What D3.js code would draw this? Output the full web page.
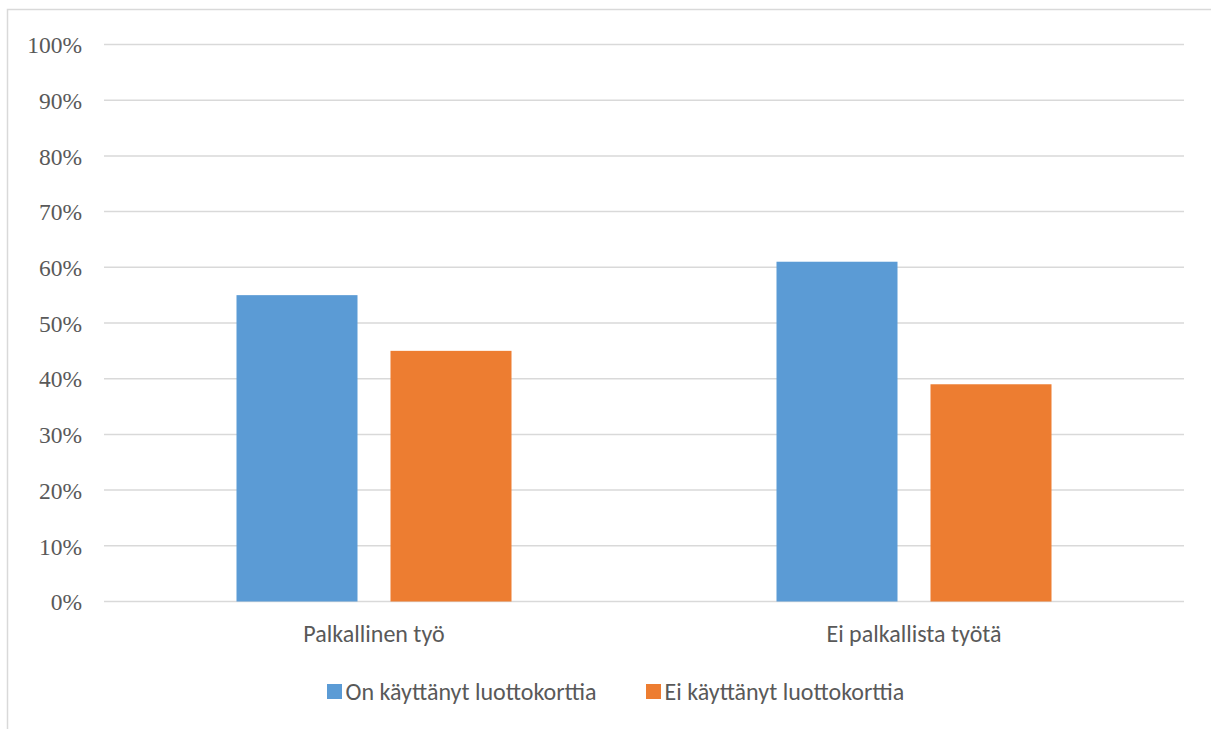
<!DOCTYPE html>
<html>
<head>
<meta charset="utf-8">
<script src="https://cdn.jsdelivr.net/npm/d3@7"></script>
<style>
  html, body { margin: 0; padding: 0; background: #fff; }
  svg { display: block; }
</style>
</head>
<body>
<svg id="chart" width="1211" height="729"></svg>
<script>
const categories = ["Palkallinen työ", "Ei palkallista työtä"];
const seriesNames = ["On käyttänyt luottokorttia", "Ei käyttänyt luottokorttia"];
const usedCard = [0.55, 0.61];
const notUsedCard = [0.45, 0.39];
const yTicks = [0, 0.1, 0.2, 0.3, 0.4, 0.5, 0.6, 0.7, 0.8, 0.9, 1.0];
const colors = ["#5B9BD5", "#ED7D31"];

const svg = d3.select("#chart");
const W = 1211, H = 729;
const sansFont = "Carlito, Calibri, 'Open Sans', 'Liberation Sans', sans-serif";

// chart area frame (only left and top edges fall inside the view)
svg.append("rect")
  .attr("x", 7.5).attr("y", 9.5)
  .attr("width", W + 10).attr("height", H + 10)
  .attr("fill", "#fff").attr("stroke", "#D9D9D9").attr("stroke-width", 1.5);

const plot = { left: 104, right: 1184, top: 44.5, bottom: 601.5 };

const x0 = d3.scaleBand().domain(categories).range([plot.left, plot.right]);
// each category holds two bars with a narrow gap, centred in the band
const groupWidth = 275;
const groupStart = (x0.bandwidth() - groupWidth) / 2;
const x1 = d3.scaleBand().domain(seriesNames)
  .range([groupStart, groupStart + groupWidth])
  .paddingInner(33 / 154).paddingOuter(0);
const y = d3.scaleLinear().domain([0, 1]).range([plot.bottom, plot.top]);

// gridlines
svg.append("g")
  .selectAll("line")
  .data(yTicks)
  .join("line")
  .attr("x1", plot.left).attr("x2", plot.right)
  .attr("y1", d => y(d)).attr("y2", d => y(d))
  .attr("stroke", "#D9D9D9").attr("stroke-width", 1.5);

// y axis labels
const yAxis = d3.axisLeft(y).tickValues(yTicks).tickFormat(d3.format(".0%")).tickSize(0).tickPadding(0);
const yg = svg.append("g").attr("transform", `translate(${plot.left - 22},0)`).call(yAxis);
yg.select(".domain").remove();
yg.selectAll("text")
  .attr("font-family", "'Liberation Serif', 'Times New Roman', serif")
  .attr("font-size", 23.5)
  .attr("fill", "#595959")
  .attr("dy", "0.35em");

// bars
const rows = categories.map((c, i) => ({ cat: c, values: [usedCard[i], notUsedCard[i]] }));
const groups = svg.append("g").selectAll("g")
  .data(rows)
  .join("g")
  .attr("transform", d => `translate(${x0(d.cat)},0)`);

groups.selectAll("rect")
  .data(d => d.values.map((v, j) => ({ name: seriesNames[j], v, j })))
  .join("rect")
  .attr("x", d => x1(d.name))
  .attr("width", x1.bandwidth())
  .attr("y", d => y(d.v))
  .attr("height", d => y(0) - y(d.v))
  .attr("fill", d => colors[d.j]);

// x axis labels
const xAxis = d3.axisBottom(x0).tickSize(0).tickPadding(0);
const xg = svg.append("g").attr("transform", `translate(0,${plot.bottom})`).call(xAxis);
xg.select(".domain").remove();
xg.selectAll("text")
  .attr("font-family", sansFont)
  .attr("font-size", 24)
  .attr("fill", "#595959")
  .attr("y", 40.5)
  .attr("dy", 0);

// legend
const legendX = [327, 646];
const legend = svg.append("g").selectAll("g")
  .data(seriesNames)
  .join("g")
  .attr("transform", (d, i) => `translate(${legendX[i]},${691.5})`);
legend.append("rect")
  .attr("x", 0).attr("y", -7.5).attr("width", 15).attr("height", 15)
  .attr("fill", (d, i) => colors[i]);
legend.append("text")
  .attr("x", 18.5).attr("y", 8.5)
  .attr("font-family", sansFont)
  .attr("font-size", 24)
  .attr("fill", "#595959")
  .text(d => d);
</script>
</body>
</html>
